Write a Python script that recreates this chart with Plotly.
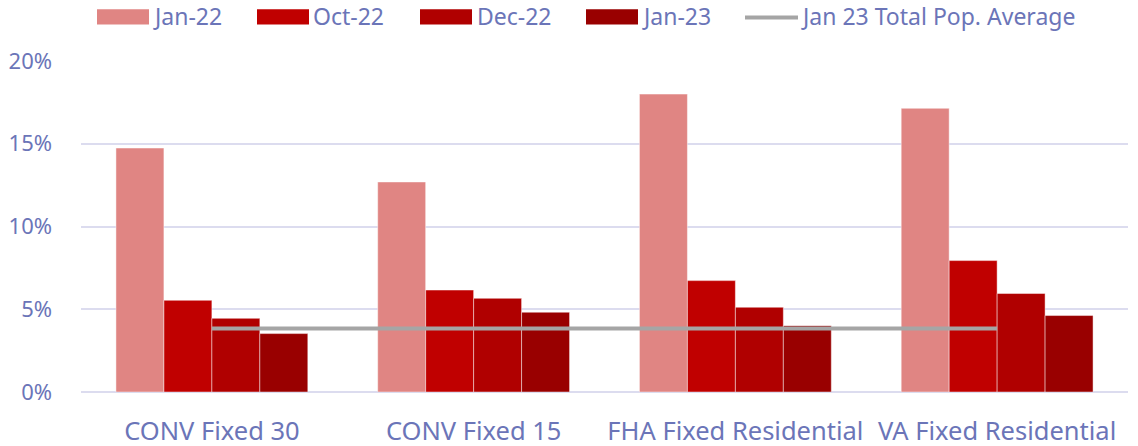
import plotly.graph_objects as go

categories = ["CONV Fixed 30", "CONV Fixed 15", "FHA Fixed Residential", "VA Fixed Residential"]
series_names = ["Jan-22", "Oct-22", "Dec-22", "Jan-23"]
jan22 = [0.1474, 0.1269, 0.1800, 0.1714]
oct22 = [0.0554, 0.0616, 0.0673, 0.0794]
dec22 = [0.0445, 0.0566, 0.0512, 0.0595]
jan23 = [0.0353, 0.0482, 0.0401, 0.0462]
avg_name = "Jan 23 Total Pop. Average"
avg_value = 0.0383
colors = ["#e08583", "#c00000", "#b00000", "#990000"]
avg_color = "#a5a5a5"
text_color = "#6b75b8"
grid_color = "#dcdcef"
FONT = "Noto Sans"

W, H = 1138, 446
L, R, T, B = 81, 10, 61, 54
plot_w = W - L - R
plot_h = H - T - B

def px_x(sx):
    return (sx - L) / plot_w

def px_y(sy):
    return (H - B - sy) / plot_h

fig = go.Figure()
for name, vals, col in zip(series_names, [jan22, oct22, dec22, jan23], colors):
    fig.add_trace(go.Bar(
        x=categories, y=vals, name=name, marker_color=col,
        marker_line=dict(color="rgba(255,255,255,0.45)", width=1),
        showlegend=False,
    ))
fig.add_trace(go.Scatter(
    x=categories, y=[avg_value] * len(categories), name=avg_name, mode="lines",
    line=dict(color=avg_color, width=4), showlegend=False,
))

# manual legend
sw_x = [97, 257, 420, 586]
txt_x = [152, 312, 476, 641]
shapes = []
annotations = []
for i, (name, col) in enumerate(zip(series_names, colors)):
    shapes.append(dict(type="rect", xref="paper", yref="paper",
                       x0=px_x(sw_x[i]), x1=px_x(sw_x[i] + 52),
                       y0=px_y(24.5), y1=px_y(9.3), fillcolor=col, line=dict(width=0)))
    annotations.append(dict(text=name, xref="paper", yref="paper", x=px_x(txt_x[i]), y=px_y(15.5),
                            xanchor="left", yanchor="middle", showarrow=False, borderpad=0,
                            font=dict(family=FONT, size=23, color=text_color)))
shapes.append(dict(type="line", xref="paper", yref="paper", x0=px_x(745), x1=px_x(798),
                   y0=px_y(17.5), y1=px_y(17.5), line=dict(color=avg_color, width=4)))
annotations.append(dict(text=avg_name, xref="paper", yref="paper", x=px_x(800), y=px_y(15.5),
                        xanchor="left", yanchor="middle", showarrow=False, borderpad=0,
                        font=dict(family=FONT, size=23, color=text_color)))

fig.update_layout(
    width=W, height=H,
    margin=dict(l=L, r=R, t=T, b=B, autoexpand=False),
    paper_bgcolor="white", plot_bgcolor="white",
    barmode="group", bargap=0.267, bargroupgap=0,
    font=dict(family=FONT, color=text_color),
    shapes=shapes, annotations=annotations,
    xaxis=dict(showgrid=False, showline=False, ticks="", ticklabelstandoff=21, automargin=False,
               tickfont=dict(family=FONT, size=25.5, color=text_color)),
    yaxis=dict(range=[0, 0.2], tickvals=[0, 0.05, 0.10, 0.15, 0.20], tickformat=".0%",
               showgrid=True, gridcolor=grid_color, gridwidth=1.5, automargin=False,
               zeroline=True, zerolinecolor=grid_color, zerolinewidth=1.5,
               showline=False, ticks="", ticklen=0, ticklabelstandoff=28,
               tickfont=dict(family=FONT, size=22, color=text_color)),
)
fig.write_html(
    "out.html",
    config={"displayModeBar": False},
    post_script="document.body.style.margin='0';document.body.style.overflow='hidden';",
)
